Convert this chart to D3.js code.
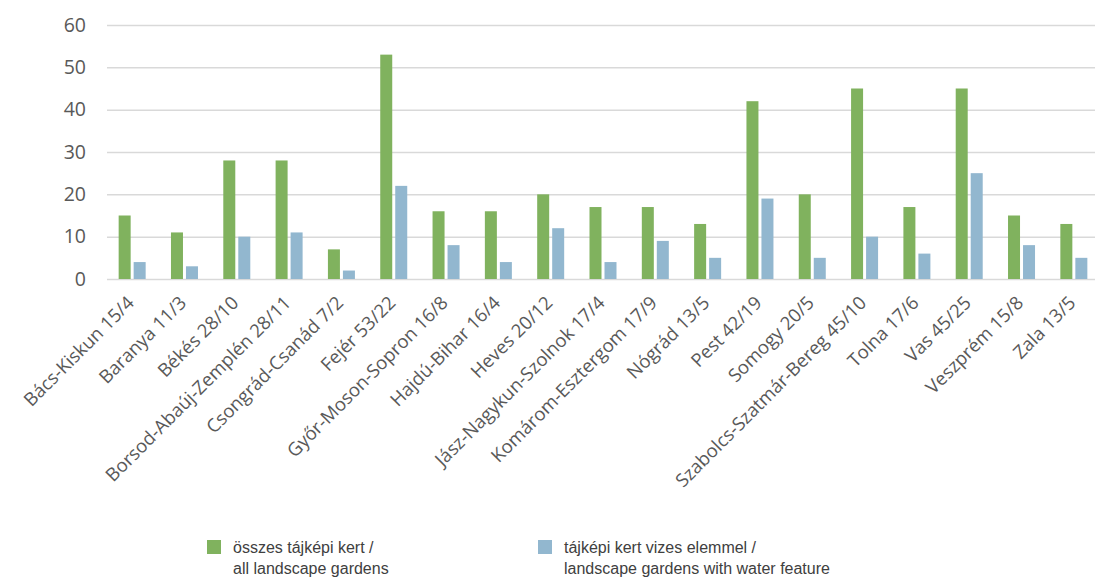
<!DOCTYPE html>
<html>
<head>
<meta charset="utf-8">
<script src="https://cdn.jsdelivr.net/npm/d3@7"></script>
<style>
  body { margin: 0; background: #fff; overflow: hidden; }
  svg { display: block; }
</style>
</head>
<body>
<svg id="chart"></svg>
<script>
// megyék és értékek
const counties = ['Bács-Kiskun', 'Baranya', 'Békés', 'Borsod-Abaúj-Zemplén', 'Csongrád-Csanád',
  'Fejér', 'Győr-Moson-Sopron', 'Hajdú-Bihar', 'Heves', 'Jász-Nagykun-Szolnok',
  'Komárom-Esztergom', 'Nógrád', 'Pest', 'Somogy', 'Szabolcs-Szatmár-Bereg',
  'Tolna', 'Vas', 'Veszprém', 'Zala'];
const allGardens = [15, 11, 28, 28, 7, 53, 16, 16, 20, 17, 17, 13, 42, 20, 45, 17, 45, 15, 13];
const waterGardens = [4, 3, 10, 11, 2, 22, 8, 4, 12, 4, 9, 5, 19, 5, 10, 6, 25, 8, 5];
const yTicks = [0, 10, 20, 30, 40, 50, 60];
const seriesNames = [
  ['összes tájképi kert /', 'all landscape gardens'],
  ['tájképi kert vizes elemmel /', 'landscape gardens with water feature']
];
const colors = ['#80b25e', '#92b7cf'];

const width = 1095, height = 583;
const svg = d3.select('#chart').attr('width', width).attr('height', height);

const mLeft = 106, mRight = 1100, mTop = 25, mBottom = 279;

const x = d3.scaleBand().domain(counties).range([mLeft, mRight]).padding(0);
const y = d3.scaleLinear().domain([0, 60]).range([mBottom, mTop]);

// rácsvonalak
svg.append('g')
  .selectAll('line')
  .data(yTicks)
  .join('line')
  .attr('x1', mLeft + 1)
  .attr('x2', width)
  .attr('y1', d => y(d) + 0.5)
  .attr('y2', d => y(d) + 0.5)
  .attr('stroke', '#d9d9d9')
  .attr('stroke-width', 1.5);

// y tengely feliratok
svg.append('g')
  .selectAll('text')
  .data(yTicks)
  .join('text')
  .attr('x', 86)
  .attr('y', d => y(d))
  .attr('dy', '0.35em')
  .attr('text-anchor', 'end')
  .style('font-family', '"Open Sans", sans-serif')
  .style('font-size', '19.5px')
  .style('fill', '#595959')
  .text(d => d);

// oszlopok
const barW = 12, gap = 3;
const groups = svg.append('g')
  .selectAll('g')
  .data(counties)
  .join('g')
  .attr('transform', d => `translate(${x(d) + x.bandwidth() / 2},0)`);

groups.append('rect')
  .attr('x', -barW - gap / 2)
  .attr('width', barW)
  .attr('y', (d, i) => y(allGardens[i]))
  .attr('height', (d, i) => mBottom - y(allGardens[i]))
  .attr('fill', colors[0]);

groups.append('rect')
  .attr('x', gap / 2)
  .attr('width', barW)
  .attr('y', (d, i) => y(waterGardens[i]))
  .attr('height', (d, i) => mBottom - y(waterGardens[i]))
  .attr('fill', colors[1]);

// x tengely feliratok
groups.append('text')
  .attr('transform', `translate(3,${mBottom + 25}) rotate(-45)`)
  .attr('text-anchor', 'end')
  .style('font-family', '"Open Sans", sans-serif')
  .style('font-size', '18.5px')
  .style('fill', '#595959')
  .text((d, i) => `${d} ${allGardens[i]}/${waterGardens[i]}`);

// jelmagyarázat
const legendX = [207, 538];
const legend = svg.append('g')
  .selectAll('g')
  .data(seriesNames)
  .join('g')
  .attr('transform', (d, i) => `translate(${legendX[i]},540)`);

legend.append('rect')
  .attr('width', 14)
  .attr('height', 14)
  .attr('fill', (d, i) => colors[i]);

legend.append('text')
  .attr('x', 26)
  .attr('y', 13)
  .style('font-family', '"Liberation Sans", Arial, sans-serif')
  .style('font-size', '16px')
  .style('fill', '#404040')
  .selectAll('tspan')
  .data(d => d)
  .join('tspan')
  .attr('x', 26)
  .attr('dy', (d, j) => j === 0 ? 0 : 21)
  .text(d => d);
</script>
</body>
</html>
